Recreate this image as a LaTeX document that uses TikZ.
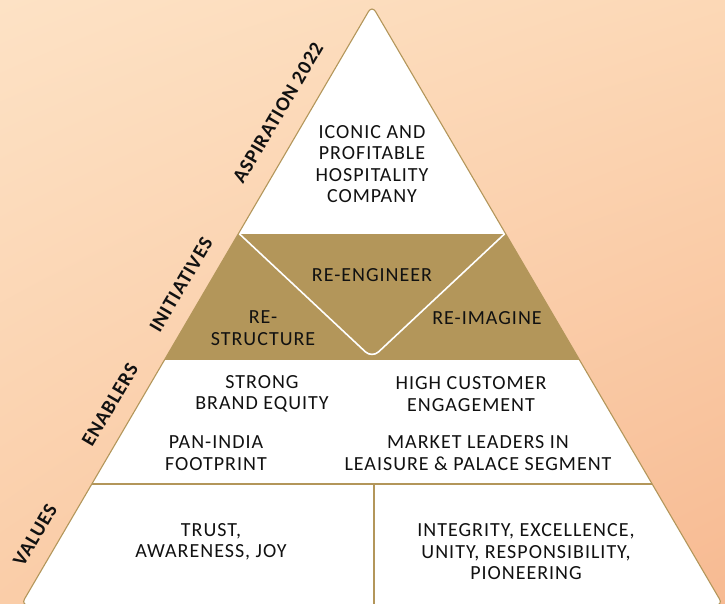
\documentclass[tikz,border=0pt]{standalone}
\usepackage{fontspec}
\usetikzlibrary{shadings}
\setmainfont{Carlito}[LetterSpace=5]
\definecolor{gold}{HTML}{B3965A}
\definecolor{bgA}{HTML}{FDE2C5}
\definecolor{bgB}{HTML}{FCD8B6}
\definecolor{bgC}{HTML}{FACDA8}
\definecolor{bgD}{HTML}{F7BA92}
\definecolor{ink}{HTML}{111111}
\begin{document}
\begin{tikzpicture}[x=1pt,y=-1pt,
  txt/.style={font=\fontsize{20}{21.5}\selectfont, align=center, text=ink, inner sep=0pt},
  side/.style={font=\bfseries\fontsize{20}{22}\selectfont, rotate=59.5, text=ink, inner sep=0pt}]
\useasboundingbox (0,0) rectangle (725,604);
\shade[upper left=bgA, upper right=bgB, lower left=bgC, lower right=bgD] (0,0) rectangle (725,604);
\begin{scope}
  \clip[rounded corners=7] (372,5.5) -- (723,605) -- (21,605) -- cycle;
  \fill[white] (0,0) rectangle (725,610);
  \fill[gold] (0,233.5) rectangle (725,360);
  \draw[white, line width=1.6, rounded corners=9] (239,233.5) -- (372,358) -- (505,233.5);
  \draw[gold, line width=1.1] (0,484) -- (725,484);
  \draw[gold, line width=1.1] (374,484) -- (374,610);
\end{scope}
\draw[gold, line width=1.1, rounded corners=7] (372,5.5) -- (723,605) -- (21,605) -- cycle;
% top
\node[txt] (top) at (372,164) {ICONIC AND\\PROFITABLE\\HOSPITALITY\\COMPANY};
% initiatives
\node[txt] (eng) at (372,275) {RE-ENGINEER};
\node[txt] (str) at (263,328) {RE-\\STRUCTURE};
\node[txt] (ima) at (487,318) {RE-IMAGINE};
% enablers
\node[txt] (brand) at (262,394) {STRONG\\BRAND EQUITY};
\node[txt] (cust) at (471,394) {HIGH CUSTOMER\\ENGAGEMENT};
\node[txt] (pan) at (216,453) {PAN-INDIA\\FOOTPRINT};
\node[txt] (mkt) at (478,453) {MARKET LEADERS IN\\LEAISURE \& PALACE SEGMENT};
% values
\node[txt] (trust) at (211,542) {TRUST,\\AWARENESS, JOY};
\node[txt] (integ) at (526,552) {INTEGRITY, EXCELLENCE,\\UNITY, RESPONSIBILITY,\\PIONEERING};
% side labels
\node[side] (asp) at (278,113) {ASPIRATION 2022};
\node[side] (ini) at (181,285) {INITIATIVES};
\node[side] (ena) at (110,405) {ENABLERS};
\node[side] (val) at (35,535) {VALUES};
\end{tikzpicture}
\end{document}
